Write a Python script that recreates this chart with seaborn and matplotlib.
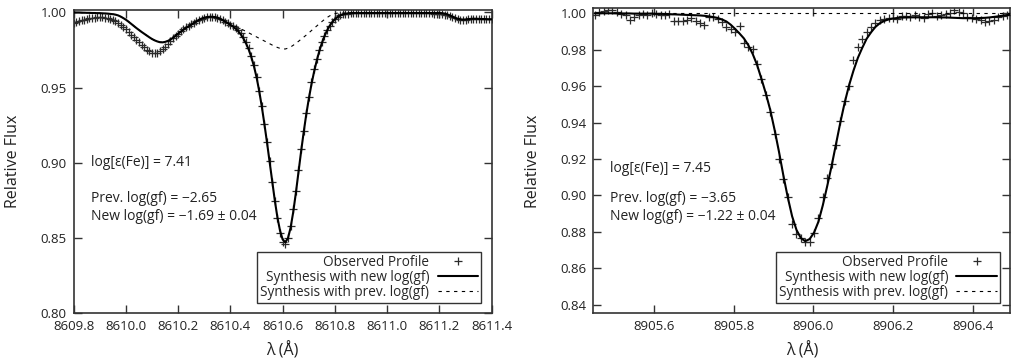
import matplotlib
matplotlib.use("Agg")
import matplotlib.pyplot as plt
import seaborn as sns
from matplotlib.lines import Line2D
from matplotlib.ticker import FormatStrFormatter


# ============================
# Data
# ============================

# Fe I 8610.6 line
wave_left = [
    8609.80, 8609.81, 8609.82, 8609.83, 8609.84, 8609.85, 8609.86, 8609.87, 8609.88, 8609.89,
    8609.90, 8609.91, 8609.92, 8609.93, 8609.94, 8609.95, 8609.96, 8609.97, 8609.98, 8609.99,
    8610.00, 8610.01, 8610.02, 8610.03, 8610.04, 8610.05, 8610.06, 8610.07, 8610.08, 8610.09,
    8610.10, 8610.11, 8610.12, 8610.13, 8610.14, 8610.15, 8610.16, 8610.17, 8610.18, 8610.19,
    8610.20, 8610.21, 8610.22, 8610.23, 8610.24, 8610.25, 8610.26, 8610.27, 8610.28, 8610.29,
    8610.30, 8610.31, 8610.32, 8610.33, 8610.34, 8610.35, 8610.36, 8610.37, 8610.38, 8610.39,
    8610.40, 8610.41, 8610.42, 8610.43, 8610.44, 8610.45, 8610.46, 8610.47, 8610.48, 8610.49,
    8610.50, 8610.51, 8610.52, 8610.53, 8610.54, 8610.55, 8610.56, 8610.57, 8610.58, 8610.59,
    8610.60, 8610.61, 8610.62, 8610.63, 8610.64, 8610.65, 8610.66, 8610.67, 8610.68, 8610.69,
    8610.70, 8610.71, 8610.72, 8610.73, 8610.74, 8610.75, 8610.76, 8610.77, 8610.78, 8610.79,
    8610.80, 8610.81, 8610.82, 8610.83, 8610.84, 8610.85, 8610.86, 8610.87, 8610.88, 8610.89,
    8610.90, 8610.91, 8610.92, 8610.93, 8610.94, 8610.95, 8610.96, 8610.97, 8610.98, 8610.99,
    8611.00, 8611.01, 8611.02, 8611.03, 8611.04, 8611.05, 8611.06, 8611.07, 8611.08, 8611.09,
    8611.10, 8611.11, 8611.12, 8611.13, 8611.14, 8611.15, 8611.16, 8611.17, 8611.18, 8611.19,
    8611.20, 8611.21, 8611.22, 8611.23, 8611.24, 8611.25, 8611.26, 8611.27, 8611.28, 8611.29,
    8611.30, 8611.31, 8611.32, 8611.33, 8611.34, 8611.35, 8611.36, 8611.37, 8611.38, 8611.39,
    8611.40,
]
obs_left = [
    0.9930, 0.9935, 0.9941, 0.9946, 0.9951, 0.9955, 0.9959, 0.9963, 0.9965, 0.9967,
    0.9967, 0.9967, 0.9965, 0.9960, 0.9955, 0.9949, 0.9940, 0.9928, 0.9915, 0.9904,
    0.9888, 0.9870, 0.9852, 0.9835, 0.9818, 0.9800, 0.9783, 0.9768, 0.9752, 0.9740,
    0.9730, 0.9727, 0.9730, 0.9740, 0.9755, 0.9772, 0.9790, 0.9810, 0.9826, 0.9842,
    0.9858, 0.9873, 0.9887, 0.9899, 0.9910, 0.9920, 0.9930, 0.9940, 0.9950, 0.9957,
    0.9963, 0.9968, 0.9970, 0.9971, 0.9969, 0.9964, 0.9957, 0.9948, 0.9938, 0.9928,
    0.9918, 0.9908, 0.9895, 0.9880, 0.9860, 0.9835, 0.9800, 0.9765, 0.9710, 0.9650,
    0.9570, 0.9480, 0.9375, 0.9260, 0.9140, 0.9010, 0.8870, 0.8745, 0.8630, 0.8535,
    0.8475, 0.8462, 0.8500, 0.8580, 0.8690, 0.8810, 0.8950, 0.9090, 0.9210, 0.9330,
    0.9440, 0.9535, 0.9620, 0.9690, 0.9750, 0.9800, 0.9845, 0.9880, 0.9910, 0.9935,
    0.9955, 0.9970, 0.9980, 0.9986, 0.9990, 0.9991, 0.9992, 0.9993, 0.9993, 0.9994,
    0.9994, 0.9993, 0.9994, 0.9995, 0.9994, 0.9993, 0.9993, 0.9992, 0.9993, 0.9994,
    0.9995, 0.9995, 0.9994, 0.9993, 0.9992, 0.9992, 0.9993, 0.9994, 0.9994, 0.9993,
    0.9992, 0.9992, 0.9993, 0.9993, 0.9992, 0.9992, 0.9993, 0.9992, 0.9991, 0.9990,
    0.9989, 0.9988, 0.9984, 0.9980, 0.9975, 0.9969, 0.9962, 0.9956, 0.9951, 0.9949,
    0.9951, 0.9954, 0.9957, 0.9958, 0.9957, 0.9956, 0.9955, 0.9955, 0.9954, 0.9953,
    0.9952,
]
new_left = [
    0.9998, 0.9998, 0.9998, 0.9997, 0.9997, 0.9996, 0.9996, 0.9995, 0.9995, 0.9994,
    0.9994, 0.9993, 0.9992, 0.9991, 0.9989, 0.9987, 0.9984, 0.9979, 0.9971, 0.9961,
    0.9950, 0.9937, 0.9923, 0.9909, 0.9895, 0.9882, 0.9869, 0.9857, 0.9845, 0.9833,
    0.9822, 0.9813, 0.9806, 0.9801, 0.9800, 0.9803, 0.9809, 0.9818, 0.9830, 0.9844,
    0.9858, 0.9871, 0.9884, 0.9896, 0.9907, 0.9918, 0.9929, 0.9940, 0.9950, 0.9958,
    0.9964, 0.9968, 0.9970, 0.9970, 0.9968, 0.9964, 0.9957, 0.9948, 0.9938, 0.9928,
    0.9917, 0.9905, 0.9891, 0.9874, 0.9852, 0.9825, 0.9792, 0.9752, 0.9702, 0.9642,
    0.9568, 0.9478, 0.9374, 0.9258, 0.9135, 0.9005, 0.8873, 0.8748, 0.8636, 0.8548,
    0.8490, 0.8472, 0.8498, 0.8566, 0.8668, 0.8793, 0.8930, 0.9068, 0.9198, 0.9318,
    0.9425, 0.9520, 0.9603, 0.9676, 0.9740, 0.9795, 0.9841, 0.9879, 0.9910, 0.9935,
    0.9954, 0.9968, 0.9979, 0.9986, 0.9990, 0.9993, 0.9995, 0.9995, 0.9995, 0.9995,
    0.9995, 0.9995, 0.9995, 0.9995, 0.9995, 0.9995, 0.9995, 0.9995, 0.9995, 0.9995,
    0.9995, 0.9995, 0.9995, 0.9995, 0.9995, 0.9995, 0.9995, 0.9995, 0.9995, 0.9995,
    0.9995, 0.9995, 0.9995, 0.9995, 0.9995, 0.9995, 0.9995, 0.9995, 0.9995, 0.9995,
    0.9995, 0.9994, 0.9991, 0.9986, 0.9979, 0.9971, 0.9963, 0.9957, 0.9953, 0.9951,
    0.9952, 0.9954, 0.9956, 0.9957, 0.9957, 0.9956, 0.9955, 0.9955, 0.9954, 0.9953,
    0.9953,
]
prev_left = [
    0.9998, 0.9998, 0.9998, 0.9997, 0.9997, 0.9996, 0.9996, 0.9995, 0.9995, 0.9994,
    0.9994, 0.9993, 0.9992, 0.9991, 0.9989, 0.9987, 0.9984, 0.9979, 0.9971, 0.9961,
    0.9950, 0.9937, 0.9923, 0.9909, 0.9895, 0.9882, 0.9869, 0.9857, 0.9845, 0.9833,
    0.9822, 0.9813, 0.9806, 0.9801, 0.9800, 0.9803, 0.9809, 0.9818, 0.9830, 0.9844,
    0.9858, 0.9871, 0.9884, 0.9896, 0.9907, 0.9918, 0.9929, 0.9940, 0.9950, 0.9958,
    0.9964, 0.9968, 0.9970, 0.9970, 0.9968, 0.9964, 0.9957, 0.9948, 0.9938, 0.9930,
    0.9922, 0.9914, 0.9906, 0.9898, 0.9890, 0.9881, 0.9872, 0.9863, 0.9854, 0.9845,
    0.9836, 0.9827, 0.9818, 0.9809, 0.9800, 0.9791, 0.9782, 0.9774, 0.9766, 0.9760,
    0.9756, 0.9756, 0.9761, 0.9769, 0.9780, 0.9793, 0.9806, 0.9820, 0.9834, 0.9848,
    0.9863, 0.9878, 0.9893, 0.9908, 0.9923, 0.9938, 0.9952, 0.9965, 0.9976, 0.9985,
    0.9991, 0.9994, 0.9995, 0.9995, 0.9995, 0.9995, 0.9995, 0.9995, 0.9995, 0.9995,
    0.9995, 0.9995, 0.9995, 0.9995, 0.9995, 0.9995, 0.9995, 0.9995, 0.9995, 0.9995,
    0.9995, 0.9995, 0.9995, 0.9995, 0.9995, 0.9995, 0.9995, 0.9995, 0.9995, 0.9995,
    0.9995, 0.9995, 0.9995, 0.9995, 0.9995, 0.9995, 0.9995, 0.9995, 0.9995, 0.9995,
    0.9995, 0.9994, 0.9991, 0.9986, 0.9979, 0.9971, 0.9963, 0.9957, 0.9953, 0.9951,
    0.9952, 0.9954, 0.9956, 0.9957, 0.9957, 0.9956, 0.9955, 0.9955, 0.9954, 0.9953,
    0.9953,
]

# Fe I 8906.0 line
wave_right = [
    8905.452, 8905.463, 8905.474, 8905.485, 8905.496, 8905.507, 8905.518, 8905.529, 8905.540, 8905.551,
    8905.562, 8905.573, 8905.584, 8905.595, 8905.606, 8905.617, 8905.628, 8905.639, 8905.650, 8905.661,
    8905.672, 8905.683, 8905.694, 8905.705, 8905.716, 8905.727, 8905.738, 8905.749, 8905.760, 8905.771,
    8905.782, 8905.793, 8905.804, 8905.815, 8905.826, 8905.837, 8905.848, 8905.859, 8905.870, 8905.881,
    8905.892, 8905.903, 8905.914, 8905.925, 8905.936, 8905.947, 8905.958, 8905.969, 8905.980, 8905.991,
    8906.002, 8906.013, 8906.024, 8906.035, 8906.046, 8906.057, 8906.068, 8906.079, 8906.090, 8906.101,
    8906.112, 8906.123, 8906.134, 8906.145, 8906.156, 8906.167, 8906.178, 8906.189, 8906.200, 8906.211,
    8906.222, 8906.233, 8906.244, 8906.255, 8906.266, 8906.277, 8906.288, 8906.299, 8906.310, 8906.321,
    8906.332, 8906.343, 8906.354, 8906.365, 8906.376, 8906.387, 8906.398, 8906.409, 8906.420, 8906.431,
    8906.442, 8906.453, 8906.464, 8906.475, 8906.486, 8906.497,
]
obs_right = [
    0.9990, 1.0005, 1.0012, 1.0020, 1.0018, 1.0005, 0.9998, 0.9990, 0.9965, 0.9980,
    0.9992, 0.9996, 0.9990, 1.0003, 0.9995, 0.9992, 0.9990, 0.9995, 0.9960, 0.9955,
    0.9958, 0.9963, 0.9972, 0.9958, 0.9945, 0.9937, 0.9980, 0.9980, 0.9966, 0.9950,
    0.9925, 0.9912, 0.9898, 0.9930, 0.9838, 0.9815, 0.9805, 0.9720, 0.9640, 0.9550,
    0.9460, 0.9335, 0.9200, 0.9090, 0.8990, 0.8840, 0.8785, 0.8765, 0.8742, 0.8745,
    0.8795, 0.8875, 0.8990, 0.9095, 0.9170, 0.9275, 0.9410, 0.9520, 0.9600, 0.9745,
    0.9815, 0.9860, 0.9895, 0.9925, 0.9948, 0.9965, 0.9968, 0.9972, 0.9975, 0.9970,
    0.9983, 0.9985, 0.9978, 0.9991, 0.9982, 0.9972, 0.9996, 1.0003, 0.9985, 0.9991,
    0.9995, 0.9999, 1.0018, 1.0009, 1.0003, 0.9982, 0.9975, 0.9970, 0.9962, 0.9954,
    0.9959, 0.9962, 0.9978, 0.9985, 0.9988, 0.9992,
]
new_right = [
    1.0000, 1.0000, 1.0000, 1.0000, 1.0000, 0.9999, 0.9999, 0.9999, 0.9999, 0.9998,
    0.9998, 0.9998, 0.9998, 0.9998, 0.9997, 0.9997, 0.9996, 0.9995, 0.9994, 0.9993,
    0.9992, 0.9991, 0.9990, 0.9989, 0.9988, 0.9986, 0.9983, 0.9979, 0.9974, 0.9966,
    0.9955, 0.9937, 0.9914, 0.9889, 0.9862, 0.9825, 0.9777, 0.9717, 0.9640, 0.9560,
    0.9470, 0.9360, 0.9240, 0.9110, 0.8990, 0.8885, 0.8810, 0.8765, 0.8748, 0.8760,
    0.8795, 0.8855, 0.8945, 0.9050, 0.9160, 0.9280, 0.9400, 0.9510, 0.9605, 0.9685,
    0.9755, 0.9810, 0.9860, 0.9895, 0.9925, 0.9945, 0.9958, 0.9966, 0.9971, 0.9974,
    0.9976, 0.9977, 0.9978, 0.9978, 0.9978, 0.9978, 0.9978, 0.9978, 0.9978, 0.9977,
    0.9977, 0.9976, 0.9975, 0.9974, 0.9973, 0.9973, 0.9973, 0.9973, 0.9974, 0.9975,
    0.9977, 0.9980, 0.9983, 0.9987, 0.9990, 0.9993,
]
prev_wave_right = [8905.452, 8906.497]
prev_right = [1.0000, 1.0000]

xticks_left = [8609.8, 8610.0, 8610.2, 8610.4, 8610.6, 8610.8, 8611.0, 8611.2, 8611.4]
yticks_left = [0.80, 0.85, 0.90, 0.95, 1.00]
xticks_right = [8905.6, 8905.8, 8906.0, 8906.2, 8906.4]
yticks_right = [0.84, 0.86, 0.88, 0.90, 0.92, 0.94, 0.96, 0.98, 1.00]

notes_left = ["log[ε(Fe)] = 7.41", "Prev. log(gf) = −2.65", "New log(gf) = −1.69 ± 0.04"]
notes_right = ["log[ε(Fe)] = 7.45", "Prev. log(gf) = −3.65", "New log(gf) = −1.22 ± 0.04"]
legend_labels = ["Observed Profile", "Synthesis with new log(gf)", "Synthesis with prev. log(gf)"]


# ============================
# Helper Functions
# ============================

INK = "#2b2b2b"
DASH = (0, (3, 4))


def draw_panel(ax, wave, obs, new, prev_wave, prev):
    """Observed crosses plus the two synthetic spectra."""
    sns.scatterplot(x=wave, y=obs, ax=ax, marker="+", s=26, color=INK,
                    linewidth=0.9, zorder=2, legend=False)
    sns.lineplot(x=wave, y=new, ax=ax, color="black", linewidth=1.5,
                 sort=False, estimator=None, zorder=3)
    sns.lineplot(x=prev_wave, y=prev, ax=ax, color="black", linewidth=0.8,
                 linestyle=DASH, sort=False, estimator=None, zorder=3)


def style_axes(ax, xlim, ylim, xticks, yticks):
    ax.set_xlim(*xlim)
    ax.set_ylim(*ylim)
    ax.set_xticks(xticks)
    ax.set_yticks(yticks)
    ax.xaxis.set_major_formatter(FormatStrFormatter("%.1f"))
    ax.yaxis.set_major_formatter(FormatStrFormatter("%.2f"))
    ax.tick_params(direction="in", top=True, right=True, length=6, width=1.0,
                   color="#333333", labelcolor="#222222", labelsize=9.5, pad=5)
    for s in ax.spines.values():
        s.set_linewidth(1.2)
        s.set_color("#333333")
    ax.set_xlabel("λ (Å)", fontsize=11.5, color="#222222")
    ax.set_ylabel("Relative Flux", fontsize=11.5, color="#222222")
    ax.xaxis.set_label_coords(0.5, -0.095)
    ax.yaxis.set_label_coords(-0.125, 0.5)


def add_notes(ax, notes, ys):
    for txt, y in zip(notes, ys):
        ax.text(0.041, y, txt, transform=ax.transAxes, fontsize=10,
                color="#222222", va="center", ha="left")


def add_legend(ax):
    handles = [
        Line2D([], [], ls="none", marker="+", ms=6, mew=0.9, color=INK),
        Line2D([], [], color="black", lw=1.5),
        Line2D([], [], color="black", lw=0.8, ls=DASH),
    ]
    leg = ax.legend(handles, legend_labels, loc="lower right", markerfirst=False,
                    frameon=True, fancybox=False, edgecolor="#333333", framealpha=1,
                    fontsize=9.8, handlelength=3.0, handletextpad=0.6,
                    labelspacing=0.02, borderpad=0.22, borderaxespad=0.75)
    leg.get_frame().set_linewidth(1.0)


# ============================
# Main
# ============================

def main():
    sns.set_style("ticks")
    plt.rcParams["font.family"] = ["Open Sans", "DejaVu Sans"]

    fig = plt.figure(figsize=(10.11, 3.63), dpi=100)
    ax1 = fig.add_axes([0.0729, 0.1369, 0.4134, 0.8356])
    ax2 = fig.add_axes([0.5868, 0.1369, 0.4127, 0.8401])

    draw_panel(ax1, wave_left, obs_left, new_left, wave_left, prev_left)
    style_axes(ax1, (8609.8, 8611.4), (0.80, 1.0015), xticks_left, yticks_left)
    add_notes(ax1, notes_left, [0.496, 0.379, 0.318])
    add_legend(ax1)

    draw_panel(ax2, wave_right, obs_right, new_right, prev_wave_right, prev_right)
    style_axes(ax2, (8905.448, 8906.495), (0.8352, 1.0027), xticks_right, yticks_right)
    add_notes(ax2, notes_right, [0.475, 0.377, 0.317])
    add_legend(ax2)

    fig.savefig("out.png", dpi=100)
    plt.close(fig)


if __name__ == "__main__":
    main()
